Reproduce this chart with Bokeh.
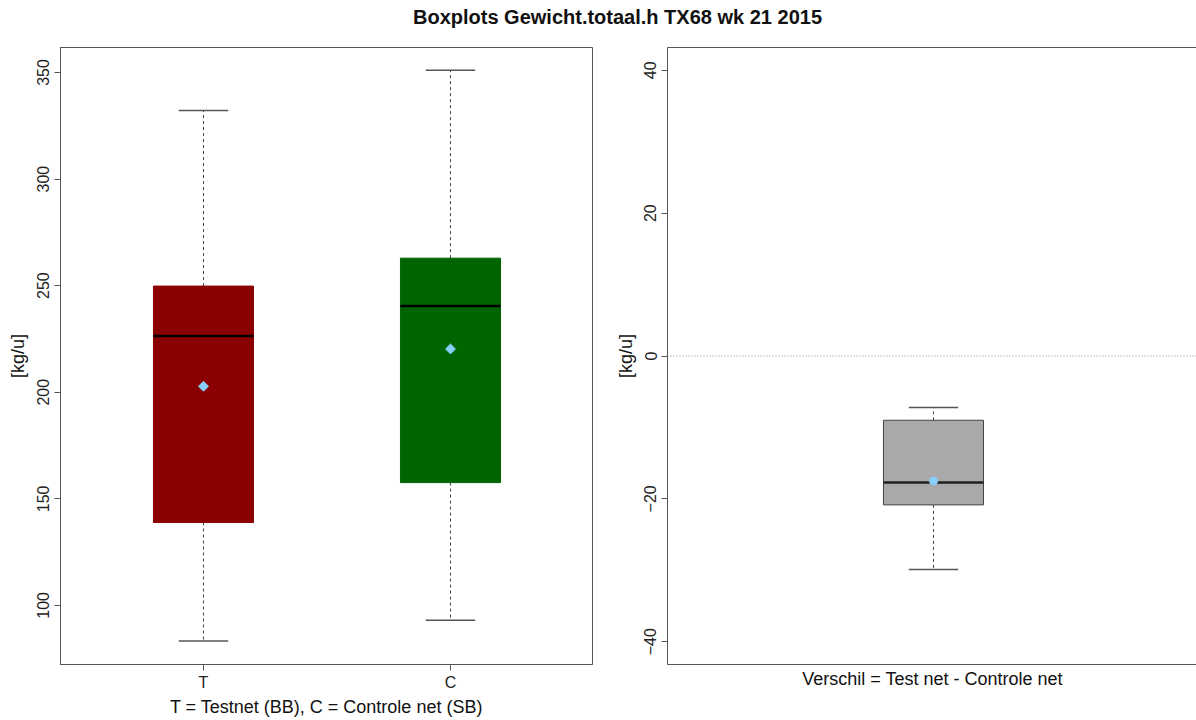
import math
from bokeh.plotting import figure
from bokeh.layouts import column, row
from bokeh.models import FixedTicker, LinearAxis, Label, Range1d, Span
from bokeh.embed import file_html
from bokeh.resources import INLINE

# ---------------- data ----------------
title_text = "Boxplots Gewicht.totaal.h TX68 wk 21 2015"
groups = [1, 2]
tick_labels = ["T", "C"]
whisker_low = [83.3, 93.0]
q1 = [138.9, 157.6]
median = [226.4, 240.4]
q3 = [249.8, 262.9]
whisker_high = [332.2, 351.0]
means = [202.8, 220.3]
box_colors = ["#8B0000", "#006400"]

diff_pos = [1]
diff_low = [-29.9]
diff_q1 = [-20.85]
diff_median = [-17.7]
diff_q3 = [-9.0]
diff_high = [-7.2]
diff_mean = [-17.5]
diff_color = ["#A9A9A9"]

left_yticks = [100, 150, 200, 250, 300, 350]
right_yticks = [-40, -20, 0, 20, 40]

FONT = "Liberation Sans"
TICK_FS = "16px"
LAB_FS = "18px"
AX_COL = "#555555"
MEAN_COL = "#87CEFA"

BOX_W = 0.405
CAP_W = 0.2


def style_axes(p):
    for ax in p.axis:
        ax.axis_line_color = AX_COL
        ax.major_tick_line_color = AX_COL
        ax.major_tick_out = 6
        ax.major_tick_in = 0
        ax.minor_tick_line_color = None
        ax.major_label_text_font = FONT
        ax.major_label_text_font_size = TICK_FS
        ax.major_label_text_color = "#222222"
        ax.axis_label_text_font = FONT
        ax.axis_label_text_font_size = LAB_FS
        ax.axis_label_text_font_style = "normal"
        ax.axis_label_text_color = "#111111"
    p.grid.visible = False


# ---------------- title ----------------
tp = figure(width=1196, height=42, toolbar_location=None, output_backend="svg",
            min_border=0, x_range=Range1d(0, 1196), y_range=Range1d(0, 42))
tp.axis.visible = False
tp.grid.visible = False
tp.outline_line_color = None
tp.add_layout(Label(x=617, y=26, x_units="screen", y_units="screen", text=title_text,
                    text_align="center", text_baseline="middle",
                    text_font=FONT, text_font_size="20px",
                    text_font_style="bold", text_color="#111111"))

# ---------------- left panel ----------------
p1 = figure(frame_width=532, frame_height=617, toolbar_location=None, output_backend="svg",
            x_range=Range1d(0.4211, 2.575), y_range=Range1d(72.28, 361.72),
            min_border_left=60, min_border_right=20, min_border_top=5, min_border_bottom=10)
p1.outline_line_color = AX_COL
p1.yaxis.ticker = FixedTicker(ticks=left_yticks)
p1.yaxis.major_label_orientation = "vertical"
p1.xaxis.ticker = FixedTicker(ticks=groups)
p1.xaxis.major_label_overrides = {g: t for g, t in zip(groups, tick_labels)}
p1.yaxis.axis_label = "[kg/u]"
p1.xaxis.axis_label = "T = Testnet (BB), C = Controle net (SB)"
style_axes(p1)
p1.xaxis.major_label_standoff = 3
p1.xaxis.axis_label_standoff = 3
p1.yaxis.major_label_standoff = 5
p1.yaxis.axis_label_standoff = 7

p1.segment(x0=groups, y0=q3, x1=groups, y1=whisker_high, line_color="#444444", line_dash="3 3", line_width=1)
p1.segment(x0=groups, y0=q1, x1=groups, y1=whisker_low, line_color="#444444", line_dash="3 3", line_width=1)
p1.segment(x0=[g - CAP_W / 2 for g in groups], y0=whisker_high, x1=[g + CAP_W / 2 for g in groups], y1=whisker_high, line_color="#555555", line_width=1.5)
p1.segment(x0=[g - CAP_W / 2 for g in groups], y0=whisker_low, x1=[g + CAP_W / 2 for g in groups], y1=whisker_low, line_color="#555555", line_width=1.5)
p1.vbar(x=groups, width=BOX_W, bottom=q1, top=q3, fill_color=box_colors, line_color=box_colors)
p1.segment(x0=[g - BOX_W / 2 for g in groups], y0=median, x1=[g + BOX_W / 2 for g in groups], y1=median, line_color="black", line_width=2.5)
p1.scatter(x=groups, y=means, marker="square", size=7, angle=math.pi / 4,
           fill_color=MEAN_COL, line_color=MEAN_COL)

# ---------------- right panel ----------------
p2 = figure(frame_width=530, frame_height=617, toolbar_location=None, output_backend="svg",
            x_range=Range1d(-0.077, 2.069), y_range=Range1d(-43.2, 43.2),
            min_border_left=54, min_border_right=0, min_border_top=5, min_border_bottom=10)
p2.outline_line_color = None
p2.yaxis.ticker = FixedTicker(ticks=right_yticks)
p2.yaxis.major_label_orientation = "vertical"
p2.xaxis.ticker = FixedTicker(ticks=[])
p2.yaxis.axis_label = "[kg/u]"
p2.xaxis.axis_label = "Verschil = Test net - Controle net"
top_axis = LinearAxis(ticker=FixedTicker(ticks=[]), major_label_text_font_size="0px")
p2.add_layout(top_axis, "above")
style_axes(p2)
top_axis.major_tick_out = 0
p2.below[0].major_label_standoff = 0
p2.below[0].axis_label_standoff = 4
p2.below[0].major_tick_out = 0
p2.yaxis.major_label_standoff = 5
p2.yaxis.axis_label_standoff = 6

p2.add_layout(Span(location=0, dimension="width", line_color="#888888", line_dash="1 2", line_width=1))
p2.segment(x0=diff_pos, y0=diff_q3, x1=diff_pos, y1=diff_high, line_color="#444444", line_dash="3 3", line_width=1)
p2.segment(x0=diff_pos, y0=diff_q1, x1=diff_pos, y1=diff_low, line_color="#444444", line_dash="3 3", line_width=1)
p2.segment(x0=[g - CAP_W / 2 for g in diff_pos], y0=diff_high, x1=[g + CAP_W / 2 for g in diff_pos], y1=diff_high, line_color="#555555", line_width=1.5)
p2.segment(x0=[g - CAP_W / 2 for g in diff_pos], y0=diff_low, x1=[g + CAP_W / 2 for g in diff_pos], y1=diff_low, line_color="#555555", line_width=1.5)
p2.vbar(x=diff_pos, width=BOX_W, bottom=diff_q1, top=diff_q3, fill_color=diff_color, line_color="#444444", line_width=1)
p2.segment(x0=[g - BOX_W / 2 for g in diff_pos], y0=diff_median, x1=[g + BOX_W / 2 for g in diff_pos], y1=diff_median, line_color="#222222", line_width=2.5)
p2.scatter(x=diff_pos, y=diff_mean, marker="circle", size=8, fill_color=MEAN_COL, line_color=MEAN_COL)

layout = column(tp, row(p1, p2, spacing=0), spacing=0)
open("out.html", "w").write(file_html(layout, INLINE))
